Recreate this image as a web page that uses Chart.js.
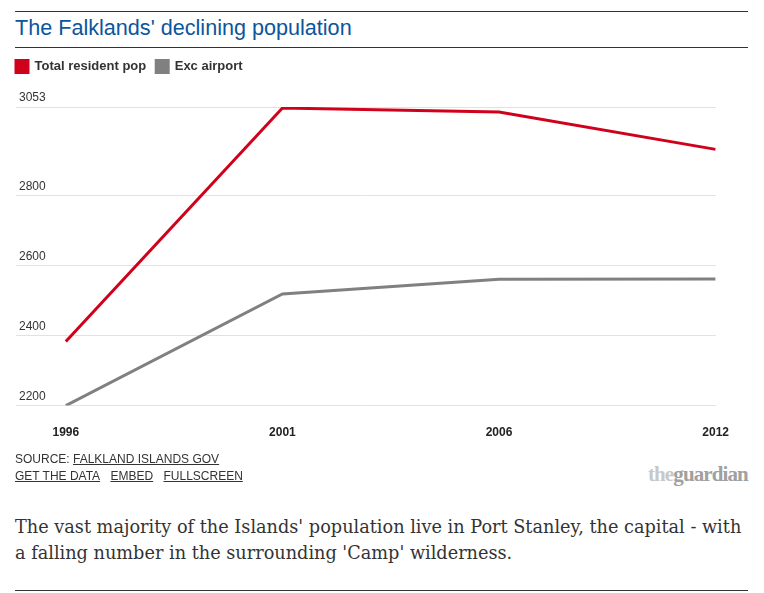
<!DOCTYPE html>
<html>
<head>
<meta charset="utf-8">
<script src="https://cdn.jsdelivr.net/npm/chart.js@4.4.0/dist/chart.umd.min.js"></script>
<style>
body { margin: 0; background: #fff; font-family: "Liberation Sans", Arial, sans-serif; color: #333; }
#wrap { position: relative; width: 764px; height: 593px; }
.rule { position: absolute; left: 15px; width: 733px; height: 1px; background: #333; }
#title { position: absolute; left: 15px; top: 15px; font-size: 21.6px; color: #0b559c; }
#chartBox { position: absolute; left: 5px; top: 50px; width: 736px; height: 402px; }
#source { position: absolute; left: 15px; top: 451px; font-size: 12px; line-height: 17px; color: #333; }
#source a { color: #333; text-decoration: underline; margin-right: 7px; }
#logo { position: absolute; left: 648px; top: 462px; font-family: "Liberation Serif", serif; font-weight: bold; font-size: 21px; letter-spacing: -0.9px; }
#logo .the { color: #c8c8c8; }
#logo .g { color: #a0a0a0; }
#caption { position: absolute; left: 15px; top: 514px; font-family: "DejaVu Serif", Georgia, serif; font-size: 17.7px; line-height: 26px; color: #333; white-space: nowrap; }
</style>
</head>
<body>
<div id="wrap">
  <div class="rule" style="top:11px"></div>
  <div id="title">The Falklands' declining population</div>
  <div class="rule" style="top:47px"></div>
  <div id="chartBox"><canvas id="myChart"></canvas></div>
  <div id="source">SOURCE: <a>FALKLAND ISLANDS GOV</a><br><a>GET THE DATA</a> <a>EMBED</a> <a>FULLSCREEN</a></div>
  <div id="logo"><span class="the">the</span><span class="g">guardian</span></div>
  <div id="caption">The vast majority of the Islands' population live in Port Stanley, the capital - with<br>a falling number in the surrounding 'Camp' wilderness.</div>
  <div class="rule" style="top:590px"></div>
</div>
<script>
const years = ["1996", "2001", "2006", "2012"];
const totalPop = [2383, 3050, 3039, 2932];
const excAirport = [2200, 2519, 2561, 2562];
const yTicks = [2200, 2400, 2600, 2800, 3053];

const toPoints = (arr) => arr.map((v, i) => ({ x: i, y: v }));

// extra room under the legend, and legend flush with the plot's left edge
const legendSpacing = {
    id: "legendSpacing",
    beforeInit(chart) {
        const fit = chart.legend.fit;
        chart.legend.fit = function () {
            fit.bind(chart.legend)();
            this.height += 24;
        };
    },
    beforeDraw(chart) {
        chart.legend.left = chart.chartArea.left - 10;
    }
};

const ctx = document.getElementById("myChart").getContext("2d");
const lineChart = new Chart(ctx, {
    type: "line",
    data: {
        datasets: [{
            label: "Total resident pop",
            data: toPoints(totalPop),
            borderColor: "#d0021b",
            backgroundColor: "#d0021b",
            borderWidth: 3,
            pointRadius: 0,
            tension: 0
        }, {
            label: "Exc airport",
            data: toPoints(excAirport),
            borderColor: "#808080",
            backgroundColor: "#808080",
            borderWidth: 3,
            pointRadius: 0,
            tension: 0
        }]
    },
    plugins: [legendSpacing],
    options: {
        responsive: true,
        maintainAspectRatio: false,
        animation: false,
        layout: { padding: { left: 5, right: 0, top: 0, bottom: 0 } },
        scales: {
            x: {
                type: "linear",
                min: -0.23,
                max: 3,
                afterBuildTicks: (axis) => {
                    axis.ticks = years.map((y, i) => ({ value: i }));
                },
                grid: { display: false },
                border: { display: false },
                ticks: {
                    color: "#222",
                    padding: 12,
                    font: { family: "Liberation Sans", size: 12, weight: "bold" },
                    callback: (v) => years[v]
                }
            },
            y: {
                min: 2200,
                max: 3053,
                afterBuildTicks: (axis) => {
                    axis.ticks = yTicks.map((v) => ({ value: v }));
                },
                grid: { color: "#e2e2e2", drawTicks: false },
                border: { display: false },
                ticks: {
                    mirror: true,
                    padding: 3,
                    labelOffset: -9,
                    color: "#333",
                    font: { family: "Liberation Sans", size: 12 },
                    callback: (v) => String(v)
                }
            }
        },
        plugins: {
            legend: {
                position: "top",
                align: "start",
                labels: {
                    boxWidth: 12,
                    boxHeight: 12,
                    padding: 10,
                    color: "#333",
                    font: { family: "Liberation Sans", size: 13, weight: "bold" }
                }
            },
            tooltip: { enabled: false }
        }
    }
});
</script>
</body>
</html>
